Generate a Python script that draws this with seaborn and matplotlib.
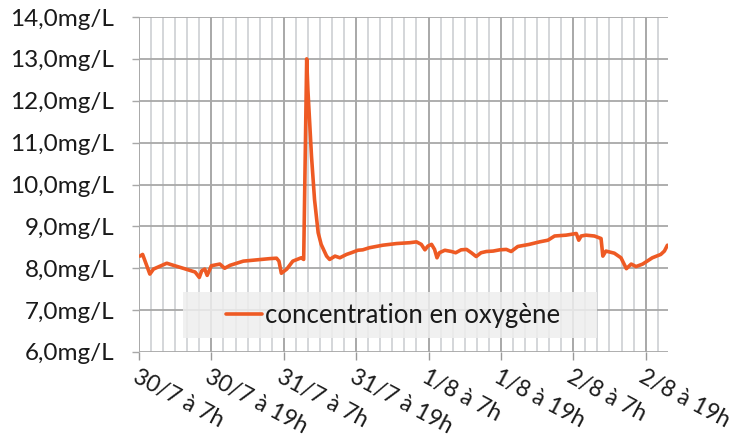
import numpy as np
import pandas as pd
import seaborn as sns
import matplotlib.pyplot as plt
from matplotlib.patches import Rectangle

# hours since 30/7 at 7h
hours = [0.17, 0.6, 1.8, 2.4, 4.6, 5.7, 7.3, 9.3, 10.0, 10.4, 10.9, 11.3, 12.0, 13.4,
         14.2, 15.1, 17.3, 19.5, 21.7, 22.8, 23.2, 23.6, 24.5, 25.5, 26.9, 27.3, 27.8,
         28.0, 28.6, 29.1, 29.7, 30.2, 31.1, 31.6, 32.5, 33.3, 34.4, 35.2, 36.3, 37.1,
         38.2, 40.4, 42.7, 44.9, 46.0, 46.8, 47.4, 47.9, 48.5, 49.0, 49.4, 49.8, 50.7,
         51.8, 52.5, 53.4, 54.3, 55.1, 55.9, 56.7, 57.6, 58.7, 59.8, 60.9, 61.7, 62.8,
         64.7, 66.4, 67.8, 68.9, 70.8, 72.5, 72.9, 73.3, 74.1, 75.5, 76.6, 76.9, 77.4,
         78.8, 79.9, 80.8, 81.6, 82.4, 83.5, 85.1, 86.5, 87.1, 87.6]
oxygen = [8.29, 8.33, 7.86, 7.98, 8.12, 8.07, 8.0, 7.91, 7.78, 7.94, 7.98, 7.83, 8.06, 8.1,
          8.0, 8.07, 8.17, 8.2, 8.23, 8.24, 8.17, 7.88, 7.98, 8.17, 8.25, 8.21, 13.0,
          12.26, 10.67, 9.64, 8.85, 8.57, 8.29, 8.21, 8.29, 8.25, 8.33, 8.37, 8.43, 8.44,
          8.49, 8.55, 8.59, 8.61, 8.63, 8.57, 8.44, 8.53, 8.57, 8.45, 8.25, 8.37, 8.43,
          8.40, 8.37, 8.44, 8.45, 8.37, 8.28, 8.37, 8.40, 8.41, 8.44, 8.45, 8.40, 8.52,
          8.57, 8.63, 8.67, 8.77, 8.79, 8.83, 8.67, 8.77, 8.79, 8.77, 8.71, 8.29, 8.41,
          8.36, 8.25, 7.99, 8.1, 8.04, 8.1, 8.25, 8.33, 8.41, 8.55]

x_ticks = [0, 12, 24, 36, 48, 60, 72, 84]
x_labels = ['30/7 à 7h', '30/7 à 19h', '31/7 à 7h', '31/7 à 19h',
            '1/8 à 7h', '1/8 à 19h', '2/8 à 7h', '2/8 à 19h']
y_ticks = [6, 7, 8, 9, 10, 11, 12, 13, 14]
y_labels = ['6,0mg/L', '7,0mg/L', '8,0mg/L', '9,0mg/L', '10,0mg/L',
            '11,0mg/L', '12,0mg/L', '13,0mg/L', '14,0mg/L']

df = pd.DataFrame({'heure': hours, 'concentration en oxygène': oxygen})

sns.set_theme(style='white')
plt.rcParams['font.family'] = ['Lato', 'DejaVu Sans']

fig = plt.figure(figsize=(7.35, 4.41), dpi=100)
ax = fig.add_axes([139 / 735, 1 - 352 / 441, 529 / 735, 335 / 441])

sns.lineplot(data=df, x='heure', y='concentration en oxygène', ax=ax,
             color='#ee5a24', linewidth=2.6, label='concentration en oxygène', zorder=4)

ax.set_xlim(0, 87.7)
ax.set_ylim(6, 14)
ax.set_xticks(x_ticks)
ax.set_xticklabels(x_labels, rotation=-28, ha='left', va='top', rotation_mode='anchor')
ax.set_xticks(np.arange(0, 88, 2), minor=True)
ax.set_yticks(y_ticks)
ax.set_yticklabels(y_labels)
ax.set_xlabel('')
ax.set_ylabel('')

for s in ax.spines.values():
    s.set_visible(False)

ax.grid(False)
ax.grid(True, axis='x', which='minor', color='#c9ccd0', linewidth=1.1)
ax.grid(True, axis='x', which='major', color='#999999', linewidth=1.2)
ax.grid(True, axis='y', which='major', color='#a8a8a8', linewidth=1.3)
ax.set_axisbelow(True)

ax.tick_params(axis='x', which='major', length=6, width=1, color='#999999',
               bottom=True, pad=4, labelsize=16.5, labelcolor='#1a1a1a')
ax.tick_params(axis='x', which='minor', length=0)
ax.tick_params(axis='y', length=5, width=1, color='#a8a8a8', left=True,
               pad=13, labelsize=17.5, labelcolor='#1a1a1a')

ax.add_patch(Rectangle((0.083, 0.042), 0.783, 0.137, transform=ax.transAxes,
                       facecolor='#eeeeee', edgecolor='none', alpha=0.85, zorder=3))
ax.legend(loc='center', bbox_to_anchor=(0.48, 0.11), frameon=False, fontsize=18.5,
          handlelength=1.4, handletextpad=0.12, labelcolor='#1a1a1a')

fig.savefig('out.png', dpi=100)
